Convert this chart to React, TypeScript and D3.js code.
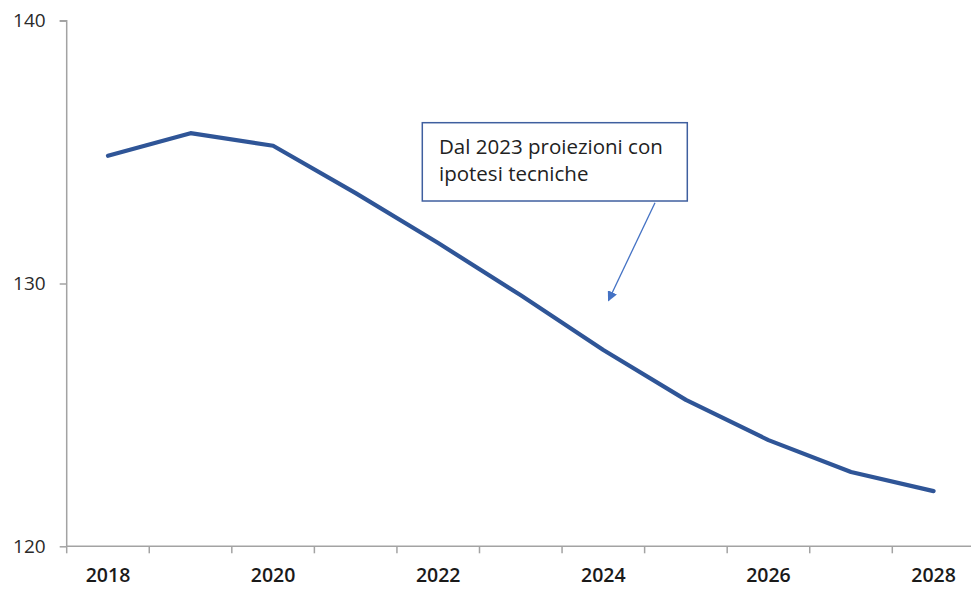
import React, { useEffect, useRef } from 'react';
import * as d3 from 'd3';

// dati
const years = ['2018', '2019', '2020', '2021', '2022', '2023', '2024', '2025', '2026', '2027', '2028'];
const values = [134.86, 135.72, 135.24, 133.44, 131.54, 129.55, 127.47, 125.57, 124.04, 122.83, 122.1];
const yTicks = [120, 130, 140];
const xLabels = ['2018', '2020', '2022', '2024', '2026', '2028'];
const note = ['Dal 2023 proiezioni con', 'ipotesi tecniche'];

const W = 971;
const H = 589;
const FONT = '"Open Sans", sans-serif';

const Chart = () => {
    const svgRef = useRef<SVGSVGElement>(null);

    useEffect(() => {
        const svg = d3.select(svgRef.current);
        svg.selectAll('*').remove();

        const left = 66.7;
        const top = 20.7;
        const bottom = 546.3;
        const step = 82.56;

        const x = d3.scaleBand().domain(years).range([left, left + step * years.length]).paddingInner(0).paddingOuter(0);
        const y = d3.scaleLinear().domain([120, 140]).range([bottom, top]);

        const axisColor = '#a3a3a3';

        // asse y
        const yAxis = d3.axisLeft(y).tickValues(yTicks).tickSize(7).tickPadding(14).tickFormat(d3.format('d'));
        const gy = svg.append('g').attr('transform', `translate(${left},0)`).call(yAxis);
        gy.select('.domain').attr('stroke', axisColor).attr('stroke-width', 1.5).attr('d', `M-7,${top}H0V${bottom}`);
        gy.selectAll('.tick line').attr('stroke', axisColor).attr('stroke-width', 1.5);
        gy.selectAll('.tick text')
            .attr('fill', '#2a2a2a')
            .style('font-family', FONT)
            .style('font-size', '19px');

        // asse x
        const xAxis = d3.axisBottom(x).tickSize(0).tickPadding(22).tickFormat(d => (xLabels.includes(d) ? d : ''));
        const gx = svg.append('g').attr('transform', `translate(0,${bottom})`).call(xAxis);
        gx.select('.domain').attr('stroke', axisColor).attr('stroke-width', 1.5).attr('d', `M${left},0H${W + 10}`);
        gx.selectAll('.tick text')
            .attr('fill', '#1a1a1a')
            .style('font-family', FONT)
            .style('font-weight', '600')
            .style('font-size', '19.5px');
        gx.selectAll('.bound')
            .data(years.slice(1).concat(['end']))
            .join('line')
            .attr('class', 'bound')
            .attr('x1', (d, i) => left + x.bandwidth() * (i + 1))
            .attr('x2', (d, i) => left + x.bandwidth() * (i + 1))
            .attr('y1', 0)
            .attr('y2', 7)
            .attr('stroke', axisColor)
            .attr('stroke-width', 1.5);
        gx.append('line')
            .attr('x1', left).attr('x2', left).attr('y1', 0).attr('y2', 7)
            .attr('stroke', axisColor).attr('stroke-width', 1.5);

        // linea
        const line = d3.line<number>()
            .x((d, i) => (x(years[i]) as number) + x.bandwidth() / 2)
            .y(d => y(d));
        svg.append('path')
            .datum(values)
            .attr('d', line)
            .attr('fill', 'none')
            .attr('stroke', '#2f5597')
            .attr('stroke-width', 4.2)
            .attr('stroke-linejoin', 'round')
            .attr('stroke-linecap', 'round');

        // nota
        svg.append('rect')
            .attr('x', 422.3).attr('y', 122.7).attr('width', 265).attr('height', 78.3)
            .attr('fill', '#fff').attr('stroke', '#3f5f9f').attr('stroke-width', 1.5);
        svg.append('text')
            .attr('x', 439).attr('y', 154)
            .style('font-family', FONT).style('font-size', '20.5px').attr('fill', '#222')
            .selectAll('tspan')
            .data(note)
            .join('tspan')
            .attr('x', 439)
            .attr('dy', (d, i) => (i === 0 ? 0 : 26.5))
            .text(d => d);

        const defs = svg.append('defs');
        defs.append('marker')
            .attr('id', 'arrowhead')
            .attr('viewBox', '0 0 10 10')
            .attr('refX', 9).attr('refY', 5)
            .attr('markerWidth', 10).attr('markerHeight', 10)
            .attr('markerUnits', 'userSpaceOnUse')
            .attr('orient', 'auto')
            .append('path').attr('d', 'M0,0L10,5L0,10Z').attr('fill', '#4472c4');
        svg.append('line')
            .attr('x1', 655).attr('y1', 202.7).attr('x2', 608.5).attr('y2', 300.5)
            .attr('stroke', '#4472c4').attr('stroke-width', 1.3)
            .attr('marker-end', 'url(#arrowhead)');
    }, []);

    return <svg ref={svgRef} width={W} height={H} style={{ position: 'absolute', left: 0, top: 0, background: '#fff' }}></svg>;
};

export default function App() {
    return <Chart />;
}
